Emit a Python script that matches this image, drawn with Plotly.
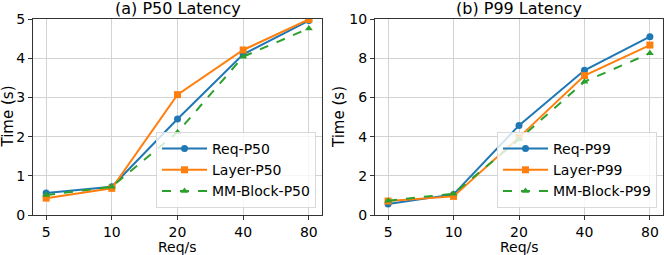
import plotly.graph_objects as go

rates = ["5", "10", "20", "40", "80"]

req_p50 = [0.56, 0.72, 2.45, 4.10, 4.96]
layer_p50 = [0.43, 0.68, 3.07, 4.21, 4.99]
mm_p50 = [0.51, 0.72, 2.11, 4.04, 4.76]

req_p99 = [0.56, 1.05, 4.57, 7.38, 9.10]
layer_p99 = [0.71, 0.95, 3.96, 7.11, 8.67]
mm_p99 = [0.73, 1.09, 3.86, 6.80, 8.25]

titles = ["(a) P50 Latency", "(b) P99 Latency"]
xlabel = "Req/s"
ylabel = "Time (s)"

BLUE, ORANGE, GREEN = "#1f77b4", "#ff7f0e", "#2ca02c"
FONT = "DejaVu Sans"

fig = go.Figure()

def add(y, name, color, symbol, dash, xa, ya, leg):
    fig.add_trace(go.Scatter(
        x=rates, y=y, name=name, mode="lines+markers",
        line=dict(color=color, width=2, dash=dash),
        marker=dict(color=color, symbol=symbol, size=7),
        legendgroup=name,
        xaxis=xa, yaxis=ya, legend=leg))

add(req_p50, "Req-P50", BLUE, "circle", "solid", "x", "y", "legend")
add(layer_p50, "Layer-P50", ORANGE, "square", "solid", "x", "y", "legend")
add(mm_p50, "MM-Block-P50", GREEN, "triangle-up", "dash", "x", "y", "legend")
add(req_p99, "Req-P99", BLUE, "circle", "solid", "x2", "y2", "legend2")
add(layer_p99, "Layer-P99", ORANGE, "square", "solid", "x2", "y2", "legend2")
add(mm_p99, "MM-Block-P99", GREEN, "triangle-up", "dash", "x2", "y2", "legend2")

W, H = 664, 255
ydom = [1 - 215 / H, 1 - 19 / H]
xdom1 = [33 / W, 322 / W]
xdom2 = [375 / W, 663 / W]

axcommon = dict(showgrid=True, gridcolor="#d3d3d3", gridwidth=1,
                showline=True, linecolor="#333333", linewidth=1, mirror=True,
                ticks="outside", ticklen=4, tickcolor="#333333",
                tickfont=dict(family=FONT, size=14, color="black"),
                zeroline=False, automargin=False)

legcommon = dict(font=dict(family=FONT, size=14, color="black"),
                 bgcolor="rgba(255,255,255,0.8)", bordercolor="#d9d9d9",
                 borderwidth=1, xanchor="right", yanchor="bottom",
                 traceorder="grouped", tracegroupgap=0, itemwidth=45)

fig.update_layout(
    width=W, height=H, margin=dict(l=0, r=0, t=0, b=0, autoexpand=False),
    plot_bgcolor="white", paper_bgcolor="white",
    font=dict(family=FONT, size=14, color="black"),
    xaxis=dict(domain=xdom1, anchor="y", type="category", range=[-0.2, 4.2], **axcommon),
    yaxis=dict(domain=ydom, anchor="x", range=[0, 5], dtick=1, **axcommon),
    xaxis2=dict(domain=xdom2, anchor="y2", type="category", range=[-0.2, 4.2], **axcommon),
    yaxis2=dict(domain=ydom, anchor="x2", range=[0, 10], dtick=2, **axcommon),
    legend=dict(x=316 / W, y=1 - 208 / H, **legcommon),
    legend2=dict(x=657 / W, y=1 - 208 / H, **legcommon),
    showlegend=True,
)

for dom, t, ylx in zip([xdom1, xdom2], titles, [7.5 / W, 339 / W]):
    cx = (dom[0] + dom[1]) / 2
    fig.add_annotation(text=t, x=cx, y=1 - 19 / H,
                       xref="paper", yref="paper", xanchor="center", yanchor="bottom",
                       showarrow=False, yshift=-1,
                       font=dict(family=FONT, size=16, color="black"))
    fig.add_annotation(text=xlabel, x=cx, y=1 - 247 / H,
                       xref="paper", yref="paper", xanchor="center", yanchor="middle",
                       showarrow=False, font=dict(family=FONT, size=14, color="black"))
    fig.add_annotation(text=ylabel, x=ylx, y=(ydom[0] + ydom[1]) / 2,
                       xref="paper", yref="paper", xanchor="center", yanchor="middle",
                       textangle=-90, showarrow=False,
                       font=dict(family=FONT, size=15, color="black"))

fig.write_html("out.html", config={"displayModeBar": False},
               post_script="document.body.style.margin='0px';")
